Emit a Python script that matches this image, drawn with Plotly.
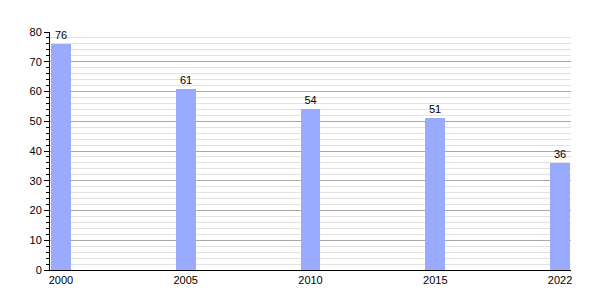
import plotly.graph_objects as go

years = ["2000", "2005", "2010", "2015", "2022"]
values = [76, 61, 54, 51, 36]
y_ticks = [0, 10, 20, 30, 40, 50, 60, 70, 80]

fig = go.Figure()
fig.add_trace(go.Bar(
    x=years, y=values,
    marker=dict(color="#99aaff", line=dict(width=0)),
    width=0.16,
    text=[str(v) for v in values],
    textposition="outside",
    textfont=dict(family="Liberation Sans, Arial", size=11, color="black"),
    cliponaxis=False,
))
fig.update_layout(
    width=600, height=300,
    margin=dict(l=50, r=29, t=32, b=30),
    paper_bgcolor="white", plot_bgcolor="white",
    showlegend=False,
    font=dict(family="Liberation Sans, Arial", size=11, color="black"),
    xaxis=dict(type="category", range=[-0.088, 4.088], showgrid=False,
               showline=True, linecolor="black", linewidth=1,
               ticks="", ticklen=0, tickfont=dict(size=11, color="black")),
    yaxis=dict(range=[0, 80], tickvals=y_ticks, showline=True, linecolor="black",
               linewidth=1, ticks="outside", ticklen=5, tickcolor="black",
               gridcolor="#aaaaaa", gridwidth=1, zeroline=False,
               tickfont=dict(size=11, color="black"),
               minor=dict(dtick=2, showgrid=True, gridcolor="#e2e2e2", gridwidth=1,
                          ticks="outside", ticklen=3, tickcolor="black")),
    bargap=0,
)
fig.write_html("out.html")
